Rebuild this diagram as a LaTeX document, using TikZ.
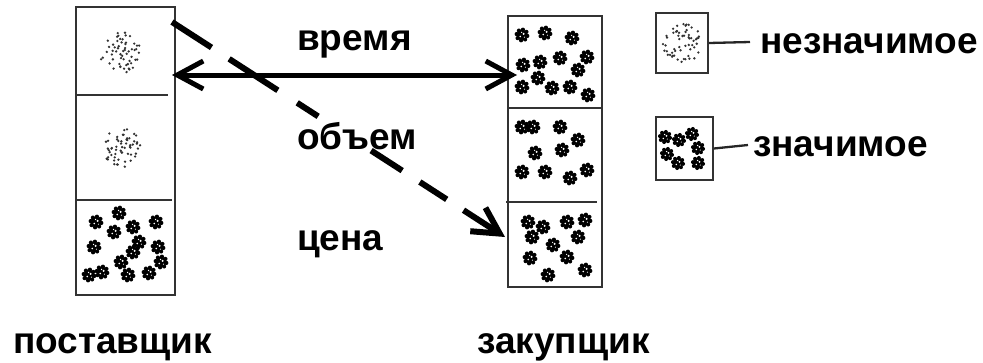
\documentclass[tikz,border=0pt]{standalone}
\usepackage{fontspec}
\setmainfont{Liberation Sans}
\usetikzlibrary{arrows.meta}
\tikzset{
  colbox/.style={draw=black!80, line width=1.8pt, inner sep=0pt},
  divider/.style={draw=black!80, line width=1.8pt},
  leader/.style={draw=black!85, line width=2.3pt},
  lbl/.style={anchor=base west, inner sep=0pt, font=\fontsize{37}{42}\selectfont\bfseries},
  barb/.tip={Straight Barb[length=26pt, width=28pt]},
  blob/.pic={
    \fill (0,0) circle (5.6pt);
    \foreach \k in {10,55,...,325}{\fill (\k:5.4) circle (2.1pt);}
    \fill[white] (1.6,-1.2) circle (1.1pt);
    \fill[white] (-1.8,1.5) circle (0.9pt);
    \fill[white] (-0.4,-2.6) circle (0.7pt);
    \fill[white] (2.4,2.2) circle (0.6pt);
  }
}
\newcommand\speckle[3]{% center x, center y, radius
  \foreach \i in {1,...,58}{
    \pgfmathsetmacro\rr{#3*sqrt(rnd)}
    \pgfmathsetmacro\aa{360*rnd}
    \fill[black!80] ([shift={(\aa:\rr)}]#1,#2) circle (1.3pt);
  }
}
\begin{document}
\begin{tikzpicture}[x=1pt,y=-1pt]
\useasboundingbox (0,0) rectangle (983,362);
\pgfmathsetseed{7}
% supplier column
\node[colbox, minimum width=99pt, minimum height=288pt] (sup) at (125.5,151) {};
\draw[divider] (77,95) -- (168,95);
\draw[divider] (77,200) -- (172,200);
% buyer column
\node[colbox, minimum width=94pt, minimum height=271pt] (buy) at (555,151.5) {};
\draw[divider] (508,108) -- (602,108);
\draw[divider] (506,202) -- (597,202);
% legend boxes
\node[colbox, minimum width=52pt, minimum height=60pt] (leg1) at (682,43) {};
\node[colbox, minimum width=57pt, minimum height=63pt] (leg2) at (684.5,148.5) {};
% speckles
\speckle{120}{53}{21}
\speckle{122}{147}{20}
\speckle{682}{43}{20}
% blobs supplier bottom
\foreach \p in {(96,222),(119,213),(114,232),(133,227),(156,222),(94,247),(139,242),(133,252),(158,247),(121,262),(161,262),(89,275),(102,272),(128,275),(149,273)}
  \pic at \p {blob};
% blobs buyer
\foreach \p in {(522,35),(545,33),(572,38),(523,65),(540,62),(560,58),(587,57),(578,70),(538,78),(522,87),(552,88),(570,87),(588,95),
  (522,127),(533,127),(560,127),(578,140),(535,153),(562,150),(522,172),(545,172),(570,178),(587,170),
  (528,222),(543,227),(567,222),(585,220),(532,237),(578,237),(553,245),(530,258),(567,257),(548,275),(585,270)}
  \pic at \p {blob};
% blobs legend
\foreach \p in {(665,137),(679,140),(692,134),(698,148),(667,154),(678,163),(698,163)}
  \pic[scale=0.95] at \p {blob};
% labels
\node[lbl] (t1) at (297,50) {время};
\node[lbl] (t2) at (297,149) {объем};
\node[lbl] (t3) at (297,250) {цена};
\node[lbl] (l1) at (760,53) {незначимое};
\node[lbl] (l2) at (753,156) {значимое};
\node[lbl] (b1) at (13,353) {поставщик};
\node[lbl] (b2) at (477,353) {закупщик};
% legend leaders
\draw[leader] (leg1.east) -- (750,42);
\draw[leader] (leg2.east) -- (748,145);
% arrows
\coordinate (aL) at (172,75);
\coordinate (aR) at (517,75);
\draw[line width=5pt, {barb}-{barb}] (aL) -- (aR);
\coordinate (dS) at (172,22);
\coordinate (dE) at (505,237);
\draw[line width=6pt, dash pattern=on 47pt off 21pt on 58pt off 23pt on 25pt off 63pt on 37pt off 21pt on 32pt off 20pt on 300pt off 0pt, -{barb}] (dS) -- (dE);
\end{tikzpicture}
\end{document}
